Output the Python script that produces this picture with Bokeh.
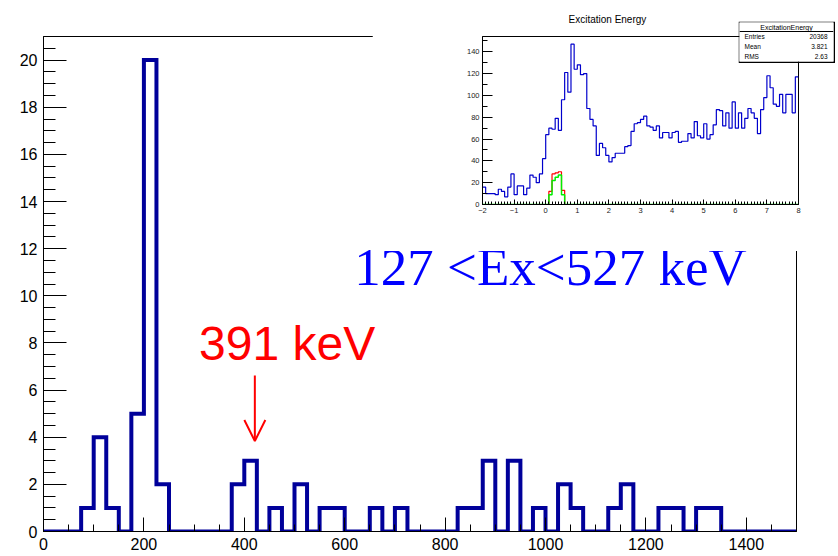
import numpy as np
from bokeh.plotting import figure
from bokeh.models import Range1d, Label, Arrow, OpenHead, SingleIntervalTicker
from bokeh.layouts import column
from bokeh.embed import file_html
from bokeh.resources import INLINE

# ---------------- data ----------------
# Gated gamma spectrum: counts per 25 keV bin from 0 to 1500 keV
bin_width = 25
energy_edges = np.arange(0, 1500 + bin_width, bin_width)
counts = [0, 0, 0, 1, 4, 1, 0, 5, 20, 2,
          0, 0, 0, 0, 0, 2, 3, 0, 1, 0,
          2, 0, 1, 1, 0, 0, 1, 0, 1, 0,
          0, 0, 0, 1, 1, 3, 0, 3, 0, 1,
          0, 2, 1, 0, 0, 1, 2, 0, 0, 1,
          1, 0, 1, 1, 0, 0, 0, 0, 0, 0]

# Excitation energy spectrum (MeV), 0.1 MeV bins from -2 to 8
ex_edges = np.round(np.linspace(-2.0, 8.0, 101), 2)
ex_all = [16, 10, 10, 10, 9, 14, 12, 7, 16, 28,
          9, 17, 17, 9, 15, 27, 25, 20, 28, 42,
          64, 70, 69, 79, 68, 96, 121, 103, 147, 124,
          128, 119, 120, 88, 78, 72, 45, 56, 52, 45,
          39, 43, 47, 47, 47, 53, 54, 67, 74, 75,
          78, 81, 72, 71, 68, 72, 61, 66, 66, 61,
          66, 67, 57, 58, 58, 65, 61, 76, 63, 61,
          74, 60, 64, 73, 87, 86, 72, 84, 70, 94,
          70, 84, 70, 79, 88, 84, 79, 65, 87, 98,
          118, 107, 92, 90, 101, 84, 101, 101, 84, 117]
ex_gate_red = [0] * 100
ex_gate_green = [0] * 100
for i, (r, g) in enumerate(zip([12, 28, 29, 30, 13], [9, 22, 25, 27, 9])):
    ex_gate_red[21 + i] = r
    ex_gate_green[21 + i] = g

stats_title = "ExcitationEnergy"
stats_names = ["Entries", "Mean", "RMS"]
stats_values = ["20368", "3.821", "2.63"]

SANS = "Liberation Sans"
SERIF = "Liberation Serif"

# ---------------- main spectrum ----------------
p = figure(width=838, height=556, x_range=Range1d(0, 1500), y_range=Range1d(0, 21),
           output_backend="svg", toolbar_location=None, frame_align=False,
           min_border_left=43, min_border_right=42, min_border_top=36, min_border_bottom=25,
           background_fill_color="white", border_fill_color="white")
p.grid.visible = False
p.outline_line_color = "black"
p.outline_line_width = 1

p.xaxis.ticker = SingleIntervalTicker(interval=200, num_minor_ticks=4)
p.yaxis.ticker = SingleIntervalTicker(interval=2, num_minor_ticks=4)
for ax, maj, mnr, stand in ((p.xaxis[0], 14, 7, 6), (p.yaxis[0], 23, 12, 6)):
    ax.major_tick_in = maj
    ax.major_tick_out = 0
    ax.minor_tick_in = mnr
    ax.minor_tick_out = 0
    ax.major_label_standoff = stand
    ax.major_label_text_font = SANS
    ax.major_label_text_font_size = "16px"
    ax.major_label_text_color = "black"
    ax.axis_line_color = "black"
    ax.major_tick_line_color = "black"
    ax.minor_tick_line_color = "black"

p.step(x=energy_edges, y=counts + [counts[-1]], mode="after",
       line_color="#00009a", line_width=4, line_join="miter")

p.add_layout(Label(x=619, y=11.22, text="127 <Ex<527 keV", text_font=SERIF,
                   text_font_size="53px", text_color="#0000ff", text_baseline="alphabetic"))
p.add_layout(Label(x=310, y=7.99, text="391 keV", text_font=SANS,
                   text_font_size="48px", text_color="#ff0000", text_baseline="alphabetic"))
p.add_layout(Arrow(x_start=421, y_start=6.62, x_end=421, y_end=3.84,
                   line_color="#ff0000", line_width=2,
                   end=OpenHead(size=21, line_color="#ff0000", line_width=2)))

# ---------------- inset: excitation energy ----------------
ins = figure(width=466, height=251, x_range=Range1d(-2, 8), y_range=Range1d(0, 154),
             output_backend="svg", toolbar_location=None, frame_align=False,
             min_border_left=110, min_border_right=40, min_border_top=34, min_border_bottom=47,
             background_fill_color="white", border_fill_color="white",
             title="Excitation Energy")
ins.title.text_font = SANS
ins.title.text_font_size = "10px"
ins.title.text_font_style = "normal"
ins.title.text_color = "black"
ins.title.align = "left"
ins.title.offset = 86
ins.title.standoff = 23
ins.grid.visible = False
ins.outline_line_color = "black"
ins.xaxis.ticker = SingleIntervalTicker(interval=1, num_minor_ticks=10)
ins.yaxis.ticker = SingleIntervalTicker(interval=20, num_minor_ticks=2)
for ax, maj, mnr, stand in ((ins.xaxis[0], 5, 3, 3), (ins.yaxis[0], 10, 5, 3)):
    ax.major_tick_in = maj
    ax.major_tick_out = 0
    ax.minor_tick_in = mnr
    ax.minor_tick_out = 0
    ax.major_label_standoff = stand
    ax.major_label_text_font = SANS
    ax.major_label_text_font_size = "7.5px"
    ax.major_label_text_color = "#222222"
    ax.axis_line_color = "black"
    ax.major_tick_line_color = "black"
    ax.minor_tick_line_color = "black"

ins.step(x=ex_edges, y=ex_all + [ex_all[-1]], mode="after", line_color="#0000cc", line_width=1.2)
ins.step(x=ex_edges, y=ex_gate_red + [ex_gate_red[-1]], mode="after", line_color="#ff0000", line_width=1.2)
ins.step(x=ex_edges, y=ex_gate_green + [ex_gate_green[-1]], mode="after", line_color="#00ee00", line_width=1.5)

# ---------------- statistics box ----------------
st = figure(width=97, height=42, x_range=Range1d(0, 94), y_range=Range1d(39, 0),
            output_backend="svg", toolbar_location=None, frame_align=False,
            min_border_left=1, min_border_right=2, min_border_top=1, min_border_bottom=2,
            background_fill_color="white", border_fill_color="black")
st.axis.visible = False
st.grid.visible = False
st.outline_line_color = None
st.segment(x0=[0], y0=[9], x1=[94], y1=[9], line_color="black", line_width=1)
st.add_layout(Label(x=47, y=4.5, text=stats_title, text_font=SANS, text_font_size="7px",
                    text_color="black", text_align="center", text_baseline="middle"))
for k, (nm, val) in enumerate(zip(stats_names, stats_values)):
    yy = 14 + 10 * k
    st.add_layout(Label(x=5, y=yy, text=nm, text_font=SANS, text_font_size="6.5px",
                        text_color="black", text_align="left", text_baseline="middle"))
    st.add_layout(Label(x=88, y=yy, text=val, text_font=SANS, text_font_size="6.5px",
                        text_color="black", text_align="right", text_baseline="middle"))

ins.styles = {"position": "absolute", "left": "372px", "top": "0px"}
st.styles = {"position": "absolute", "left": "738px", "top": "21px"}

root = column(p, ins, st, styles={"position": "relative"})

open("out.html", "w").write(file_html(root, INLINE))
